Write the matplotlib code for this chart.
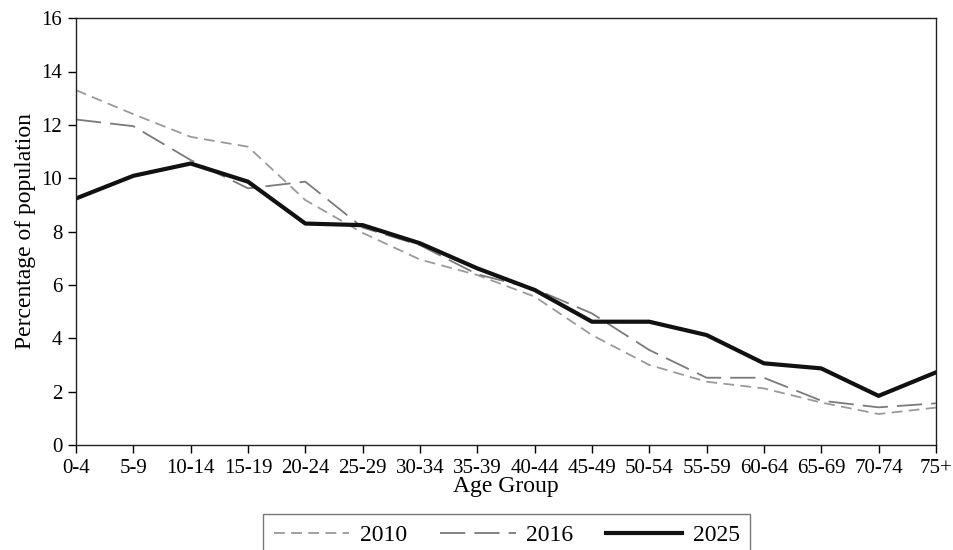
import matplotlib.pyplot as plt

plt.rcParams['font.family'] = ['Liberation Serif', 'DejaVu Serif']

age_groups = ['0-4', '5-9', '10-14', '15-19', '20-24', '25-29', '30-34', '35-39',
              '40-44', '45-49', '50-54', '55-59', '60-64', '65-69', '70-74', '75+']

pop_2010 = [13.3, 12.4, 11.55, 11.18, 9.18, 7.95, 6.95, 6.37,
            5.56, 4.12, 3.0, 2.37, 2.12, 1.59, 1.16, 1.40]
pop_2016 = [12.2, 11.95, 10.68, 9.62, 9.87, 8.15, 7.49, 6.4,
            5.85, 4.93, 3.56, 2.52, 2.52, 1.66, 1.41, 1.56]
pop_2025 = [9.24, 10.09, 10.55, 9.87, 8.3, 8.24, 7.56, 6.62,
            5.81, 4.62, 4.62, 4.12, 3.06, 2.87, 1.84, 2.72]

fig = plt.figure(figsize=(9.54, 5.5), dpi=100)
ax = fig.add_axes([0.0797, 0.191, 0.9013, 0.776])

x = range(len(age_groups))
ax.plot(x, pop_2010, color='#9a9a9a', linewidth=1.3, dashes=(6, 3.5), label='2010')
ax.plot(x, pop_2016, color='#7a7a7a', linewidth=1.3, dashes=(14, 5), label='2016')
ax.plot(x, pop_2025, color='#111111', linewidth=3.0, label='2025')

ax.set_xlim(0, len(age_groups) - 1)
ax.set_ylim(0, 16)
ax.set_yticks(range(0, 17, 2))
ax.set_xticks(list(x))
ax.set_xticklabels(age_groups)
ax.tick_params(direction='out', length=6, width=1, labelsize=15, pad=4)
for s in ax.spines.values():
    s.set_linewidth(1.0)
    s.set_color('#222222')

ax.set_xlabel('Age Group', fontsize=17, labelpad=-1)
ax.set_ylabel('Percentage of population', fontsize=17, labelpad=4)

leg = fig.legend(loc='upper center', bbox_to_anchor=(0.531, 0.066), ncol=3,
                 fontsize=17, frameon=True, fancybox=False, handlelength=3.2,
                 handletextpad=0.45, columnspacing=1.4, borderpad=0.45,
                 borderaxespad=0)
leg.get_frame().set_edgecolor('#555555')
leg.get_frame().set_linewidth(1.0)

fig.savefig('out.png', dpi=100)
